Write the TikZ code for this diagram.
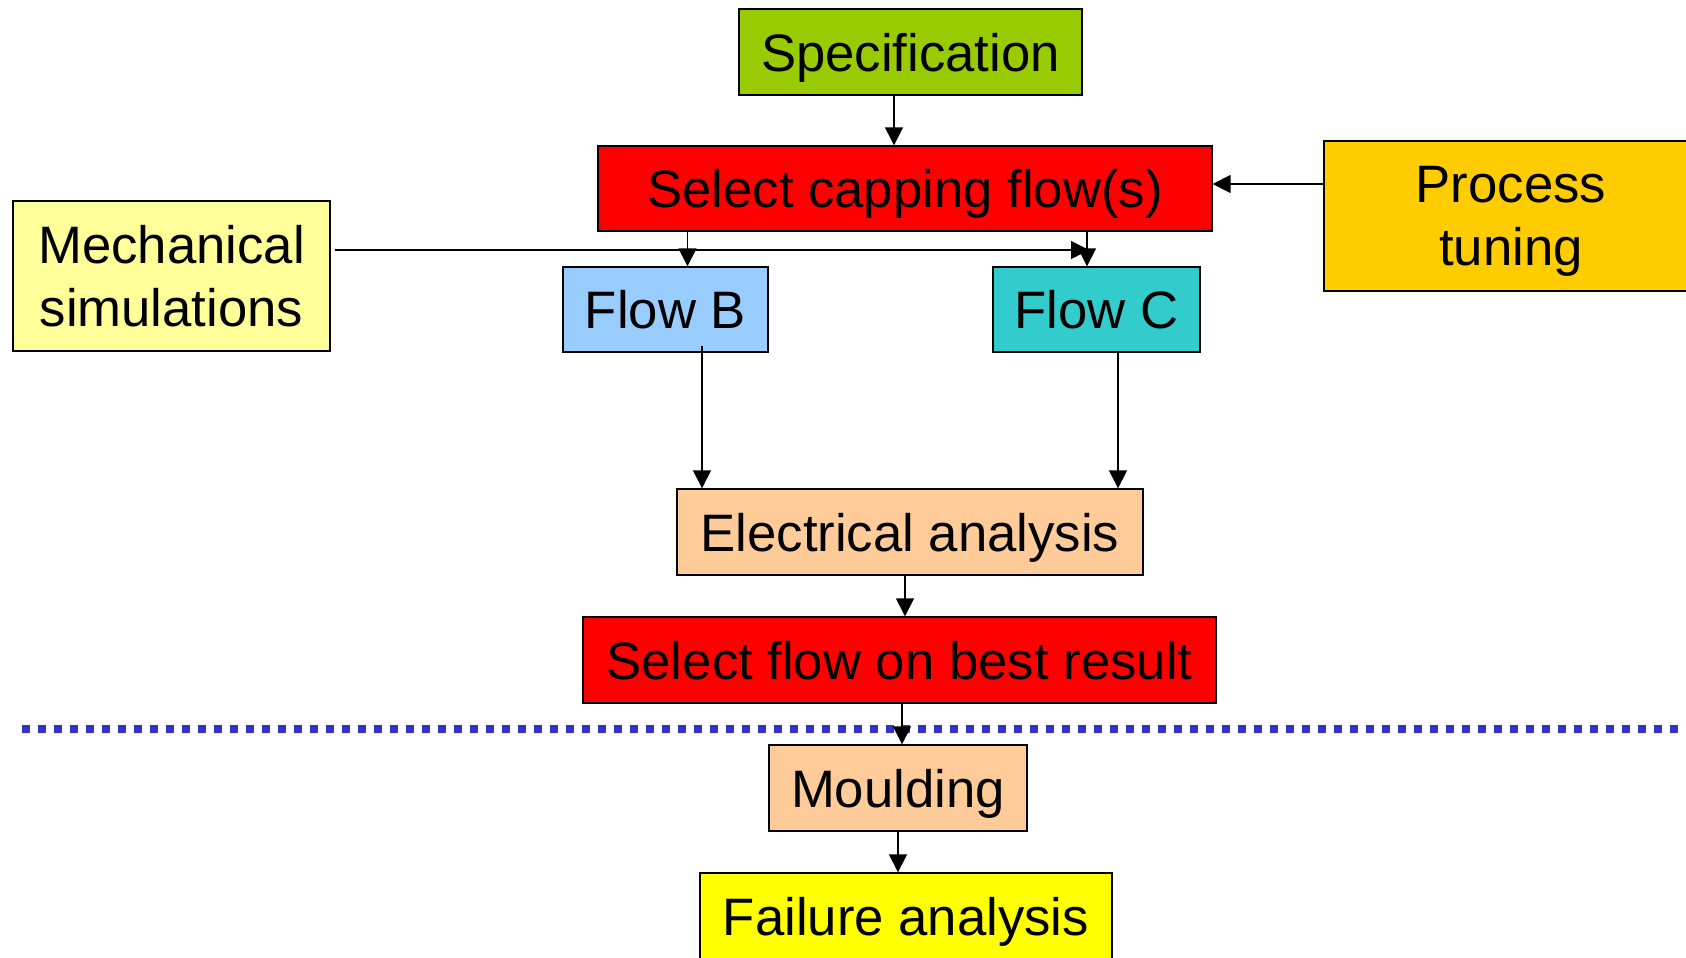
\documentclass[tikz,border=0pt]{standalone}
\usepackage{fontspec}
\setmainfont{Liberation Sans}
\usepackage{xcolor}
\usetikzlibrary{arrows.meta}

\definecolor{specgreen}{HTML}{99CC00}
\definecolor{selred}{HTML}{FF0000}
\definecolor{tuneorange}{HTML}{FFCC00}
\definecolor{mechyellow}{HTML}{FFFF99}
\definecolor{flowblue}{HTML}{99CCFF}
\definecolor{flowteal}{HTML}{33CCCC}
\definecolor{peach}{HTML}{FFCC99}
\definecolor{failyellow}{HTML}{FFFF00}
\definecolor{sepblue}{HTML}{3333CC}

\begin{document}
\begin{tikzpicture}[x=0.02cm, y=-0.02cm,
  box/.style={draw=black, line width=0.8pt, inner sep=0pt, align=center,
    text depth=0pt, font=\fontsize{30}{36}\selectfont},
  arr/.style={line width=0.8pt, -{Triangle[length=0.36cm, width=0.36cm]}}]
  \useasboundingbox (0,0) rectangle (1686,957);

  % Top boxes
  \node[box, fill=specgreen, minimum width=6.86cm, minimum height=1.72cm] (spec) at (910.5,52) {Specification};
  \node[box, fill=selred, minimum width=12.28cm, minimum height=1.70cm] (capsel) at (905,188.5) {Select capping flow(s)};
  \node[box, fill=tuneorange, minimum width=7.48cm, minimum height=3.0cm] (tuning) at (1511,216) {Process\\tuning};
  \node[box, fill=mechyellow, minimum width=6.34cm, minimum height=3.0cm] (mech) at (171.5,276) {Mechanical\\simulations};

  % Flows
  \node[box, fill=flowblue, minimum width=4.1cm, minimum height=1.70cm] (flowb) at (665.5,309.5) {Flow B};
  \node[box, fill=flowteal, minimum width=4.14cm, minimum height=1.70cm] (flowc) at (1096.5,309.5) {Flow C};

  % Analysis and selection
  \node[box, fill=peach, minimum width=9.32cm, minimum height=1.72cm] (elec) at (910,532) {Electrical analysis};
  \node[box, fill=selred, minimum width=12.66cm, minimum height=1.72cm] (flowsel) at (899.5,660) {Select flow on best result};

  % Below the line
  \node[box, fill=peach, minimum width=5.16cm, minimum height=1.72cm] (mould) at (898,788) {Moulding};
  \node[box, fill=failyellow, minimum width=8.24cm, minimum height=1.72cm] (fail) at (906,916) {Failure analysis};

  % Separator
  \draw[sepblue, line width=0.16cm, dash pattern=on 0.16cm off 0.16cm] (22,729) -- (1686,729);

  % Connectors
  \coordinate (specout) at ([xshift=-0.33cm]spec.south);
  \draw[arr] (specout) -- (specout |- capsel.north);
  \coordinate (tunein) at ([yshift=0.64cm]tuning.west);
  \draw[arr] (tunein) -- (tunein -| capsel.east);
  \coordinate (bin) at ([xshift=0.44cm]flowb.north);
  \draw[arr] (bin |- capsel.south) -- (bin);
  \coordinate (cin) at ([xshift=-0.19cm]flowc.north);
  \draw[arr] (cin |- capsel.south) -- (cin);
  \coordinate (mjoin) at (1089,250);
  \draw[arr] ([xshift=0.08cm]mech.east |- mjoin) -- (mjoin);
  \coordinate (bout) at ([xshift=0.73cm]flowb.south);
  \draw[arr] ([yshift=0.14cm]bout) -- (bout |- elec.north);
  \coordinate (cout) at ([xshift=0.43cm]flowc.south);
  \draw[arr] (cout) -- (cout |- elec.north);
  \coordinate (eout) at ([xshift=-0.1cm]elec.south);
  \draw[arr] (eout) -- (eout |- flowsel.north);
  \coordinate (sout) at ([xshift=0.05cm]flowsel.south);
  \draw[arr] (sout) -- (sout |- mould.north);
  \draw[arr] (mould.south) -- (mould.south |- fail.north);
\end{tikzpicture}
\end{document}
